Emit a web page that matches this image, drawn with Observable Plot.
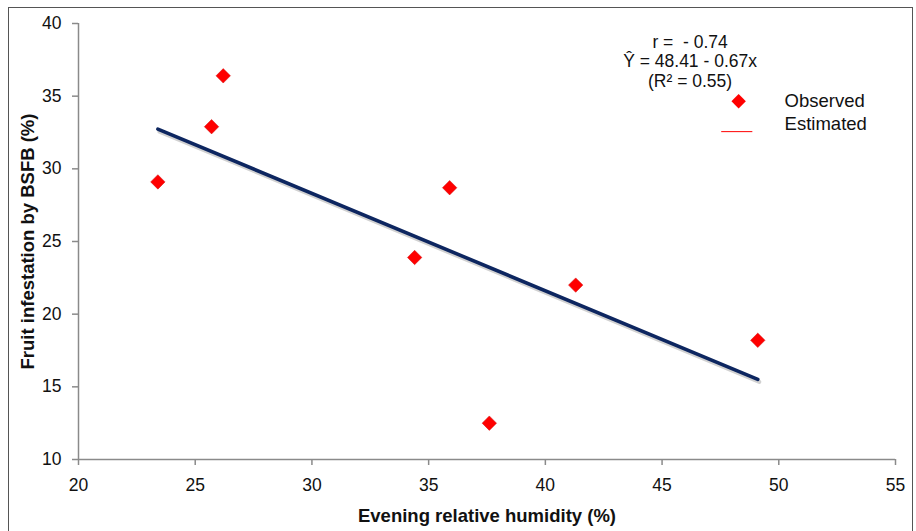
<!DOCTYPE html>
<html>
<head>
<meta charset="utf-8">
<script src="https://cdn.jsdelivr.net/npm/d3@7"></script>
<script src="https://cdn.jsdelivr.net/npm/@observablehq/plot@0.6"></script>
<style>
  html, body { margin: 0; padding: 0; background: #fff; }
  #wrap { position: relative; width: 916px; height: 531px; overflow: hidden; }
  #border { position: absolute; left: 8px; top: 7px; width: 905px; height: 540px; border: 1.5px solid #555; box-sizing: border-box; pointer-events: none; }
  svg { display: block; }
</style>
</head>
<body>
<div id="wrap"><div id="border"></div></div>
<script>
// Data
const humidity    = [23.4, 25.7, 26.2, 34.4, 35.9, 37.6, 41.3, 49.1];
const infestation = [29.1, 32.9, 36.4, 23.9, 28.7, 12.5, 22.0, 18.2];
const intercept = 48.41;
const slope = -0.67;
const xTicks = [20, 25, 30, 35, 40, 45, 50, 55];
const yTicks = [10, 15, 20, 25, 30, 35, 40];
const statLines = ["r =  - 0.74", "Ŷ = 48.41 - 0.67x", "(R² = 0.55)"];
const legendLabels = ["Observed", "Estimated"];

const observed = humidity.map((x, i) => ({x, y: infestation[i]}));
const xMin = d3.min(humidity), xMax = d3.max(humidity);
const fitted = [xMin, xMax].map(x => ({x, y: intercept + slope * x}));

const font = "'Liberation Sans', Arial, sans-serif";

const chart = Plot.plot({
  width: 916,
  height: 531,
  marginLeft: 78,
  marginRight: 21,
  marginTop: 23,
  marginBottom: 72,
  style: {fontFamily: font, fontSize: "17.5px", color: "#222", background: "transparent"},
  x: {domain: [20, 55], ticks: xTicks, label: null},
  y: {domain: [10, 40], ticks: yTicks, label: null},
  marks: [
    Plot.axisX({ticks: xTicks, tickSize: 6, tickPadding: 13, stroke: "#8a8a8a", strokeWidth: 1.5, fill: "#111", fontSize: 17.5, label: null}),
    Plot.axisY({ticks: yTicks, tickSize: 6, tickPadding: 11, stroke: "#8a8a8a", strokeWidth: 1.5, fill: "#111", fontSize: 17.5, label: null}),
    Plot.ruleX([20], {stroke: "#8a8a8a", strokeWidth: 1.5}),
    Plot.ruleY([10], {stroke: "#8a8a8a", strokeWidth: 1.5}),
    // shadow of regression line
    Plot.line(fitted, {x: "x", y: "y", stroke: "#000", strokeOpacity: 0.18, strokeWidth: 4, dx: 1.5, dy: 2.5}),
    Plot.line(fitted, {x: "x", y: "y", stroke: "#0d2660", strokeWidth: 3.6}),
    Plot.dot(observed, {x: "x", y: "y", symbol: "diamond2", r: 6.5, fill: "#ff0000", stroke: "#d01010", strokeWidth: 0.5}),
    // statistics annotation (one multi-line text)
    Plot.text([statLines.join("\n")], {x: () => 46.2, y: () => 37.4, text: d => d, fontSize: 17.5, lineHeight: 1.1, fill: "#111", textAnchor: "middle"}),
    // legend
    Plot.dot([legendLabels[0]], {x: () => 48.28, y: () => 34.65, symbol: "diamond2", r: 6.5, fill: "#ff0000"}),
    Plot.line([{x: 47.55, y: 32.56}, {x: 48.85, y: 32.56}], {x: "x", y: "y", stroke: "#ff0000", strokeWidth: 1}),
    Plot.text(legendLabels, {x: () => 50.25, y: (d, i) => [34.65, 33.08][i], text: d => d, textAnchor: "start", fontSize: 18.5, fill: "#111"}),
    // axis titles
    Plot.text(["Evening relative humidity (%)"], {frameAnchor: "bottom", dy: 62, text: d => d, fontWeight: "bold", fontSize: 18.5, fill: "#111", textAnchor: "middle"}),
    Plot.text(["Fruit infestation by BSFB (%)"], {frameAnchor: "left", dx: -50, rotate: -90, text: d => d, fontWeight: "bold", fontSize: 18.5, fill: "#111", textAnchor: "middle"})
  ]
});
document.getElementById("wrap").appendChild(chart);
</script>
</body>
</html>
